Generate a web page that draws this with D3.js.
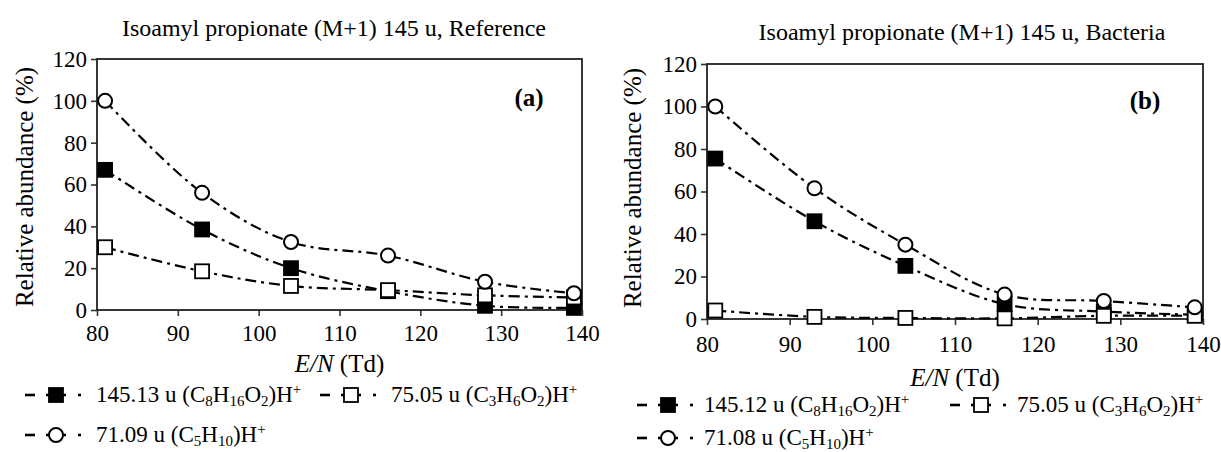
<!DOCTYPE html>
<html lang="en">
<head>
  <meta charset="UTF-8">
  <title>Isoamyl propionate</title>
  <script src="https://d3js.org/d3.v7.min.js"></script>
  <style>
    body {
      margin: 0;
      background: #fff;
      overflow: hidden;
    }
  </style>
</head>
<body>
  <div id="chart"></div>
  <script>
    // E/N values (Td)
    const enValues = [81, 93, 104, 116, 128, 139];

    // panel (a) reference
    const refParent = [67, 38.5, 20, 9, 2, 1];
    const refFrag75 = [30, 18.5, 11.5, 9.5, 7, 6];
    const refFrag71 = [100, 56, 32.5, 26, 13.5, 8];

    // panel (b) bacteria
    const bacParent = [75.5, 46, 25, 7, 3.5, 2];
    const bacFrag75 = [4, 1, 0.5, 0.3, 1.5, 1.5];
    const bacFrag71 = [100, 61.5, 35, 11.5, 8.5, 5.5];

    const xTicks = [80, 90, 100, 110, 120, 130, 140];
    const yTicks = [0, 20, 40, 60, 80, 100, 120];

    // legend label parts: [text, "sub" | "sup" | ""]
    const labelsA = [
      [["145.13 u  (C", ""], ["8", "sub"], ["H", ""], ["16", "sub"], ["O", ""], ["2", "sub"], [")H", ""], ["+", "sup"]],
      [["75.05 u (C", ""], ["3", "sub"], ["H", ""], ["6", "sub"], ["O", ""], ["2", "sub"], [")H", ""], ["+", "sup"]],
      [["71.09 u  (C", ""], ["5", "sub"], ["H", ""], ["10", "sub"], [")H", ""], ["+", "sup"]]
    ];
    const labelsB = [
      [["145.12 u  (C", ""], ["8", "sub"], ["H", ""], ["16", "sub"], ["O", ""], ["2", "sub"], [")H", ""], ["+", "sup"]],
      [["75.05 u (C", ""], ["3", "sub"], ["H", ""], ["6", "sub"], ["O", ""], ["2", "sub"], [")H", ""], ["+", "sup"]],
      [["71.08 u  (C", ""], ["5", "sub"], ["H", ""], ["10", "sub"], [")H", ""], ["+", "sup"]]
    ];

    const markers = ["filledSquare", "openSquare", "openCircle"];
    const dash = "11,5,3,5";
    const serif = "'Liberation Serif', 'Times New Roman', serif";

    const svg = d3.select("#chart").append("svg")
      .attr("width", 1221)
      .attr("height", 452)
      .attr("font-family", serif);

    function drawMarker(g, type, x, y) {
      if (type === "openCircle") {
        g.append("circle")
          .attr("cx", x).attr("cy", y).attr("r", 7)
          .attr("fill", "#fff").attr("stroke", "#000").attr("stroke-width", 2);
      } else {
        g.append("rect")
          .attr("x", x - 7).attr("y", y - 7)
          .attr("width", 14).attr("height", 14)
          .attr("fill", type === "filledSquare" ? "#000" : "#fff")
          .attr("stroke", "#000").attr("stroke-width", 1.8);
      }
    }

    function writeLabel(g, parts, x, y) {
      const t = g.append("text")
        .attr("x", x).attr("y", y)
        .attr("font-family", serif)
        .attr("font-size", 23);
      parts.forEach(([s, kind]) => {
        const ts = t.append("tspan").text(s);
        if (kind === "sub") ts.attr("font-size", 15).attr("baseline-shift", "-4");
        if (kind === "sup") ts.attr("font-size", 15).attr("baseline-shift", "8");
      });
    }

    function legendItem(g, type, parts, x0, y, textGap) {
      g.append("line")
        .attr("x1", x0).attr("x2", x0 + 10)
        .attr("y1", y).attr("y2", y)
        .attr("stroke", "#000").attr("stroke-width", 2.6);
      g.append("line")
        .attr("x1", x0 + 21).attr("x2", x0 + 41)
        .attr("y1", y).attr("y2", y)
        .attr("stroke", "#000").attr("stroke-width", 2.6);
      g.append("line")
        .attr("x1", x0 + 53).attr("x2", x0 + 56)
        .attr("y1", y).attr("y2", y)
        .attr("stroke", "#000").attr("stroke-width", 2.6);
      drawMarker(g, type, x0 + 31, y);
      writeLabel(g, parts, x0 + textGap, y + 7);
    }

    function drawPanel(p) {
      const x = d3.scaleLinear().domain([80, 140]).range([p.left, p.right]);
      const y = d3.scaleLinear().domain([0, 120]).range([p.bottom, p.top]);
      const g = svg.append("g");

      g.append("text")
        .attr("x", p.titleX).attr("y", p.titleY)
        .attr("text-anchor", "middle")
        .attr("font-family", serif)
        .attr("font-size", 24)
        .text(p.title);

      const xAxis = g.append("g")
        .attr("transform", `translate(0,${p.bottom})`)
        .call(d3.axisBottom(x).tickValues(xTicks).tickSize(6).tickPadding(p.xPad));
      const yAxis = g.append("g")
        .attr("transform", `translate(${p.left},0)`)
        .call(d3.axisLeft(y).tickValues(yTicks).tickSize(6).tickPadding(4));
      [xAxis, yAxis].forEach(a => {
        a.attr("font-family", serif).attr("font-size", 23);
        a.select(".domain").remove();
        a.selectAll("line").attr("stroke", "#333").attr("stroke-width", 1.6);
      });

      g.append("rect")
        .attr("x", p.left).attr("y", p.top)
        .attr("width", p.right - p.left).attr("height", p.bottom - p.top)
        .attr("fill", "none").attr("stroke", "#222").attr("stroke-width", 1.8);

      const ax = g.append("text")
        .attr("x", (p.left + p.right) / 2).attr("y", p.axisTitleY)
        .attr("text-anchor", "middle")
        .attr("font-family", serif)
        .attr("font-size", 25);
      ax.append("tspan").attr("font-style", "italic").text("E/N");
      ax.append("tspan").text(" (Td)");

      g.append("text")
        .attr("transform", `translate(${p.yTitleX},${p.yTitleY}) rotate(-90)`)
        .attr("text-anchor", "middle")
        .attr("font-family", serif)
        .attr("font-size", 25)
        .text("Relative abundance (%)");

      g.append("text")
        .attr("x", p.tagX).attr("y", p.tagY)
        .attr("text-anchor", "middle")
        .attr("font-family", serif)
        .attr("font-size", 25).attr("font-weight", "bold")
        .text(p.tag);

      const line = d3.line()
        .x((d, i) => x(enValues[i]))
        .y(d => y(d))
        .curve(d3.curveCatmullRom.alpha(0.5));

      p.series.forEach(vals => {
        g.append("path")
          .attr("d", line(vals))
          .attr("fill", "none")
          .attr("stroke", "#000")
          .attr("stroke-width", 2.2)
          .attr("stroke-dasharray", dash);
      });
      p.series.forEach((vals, k) => {
        vals.forEach((v, i) => drawMarker(g, markers[k], x(enValues[i]), y(v)));
      });

      const lg = g.append("g");
      legendItem(lg, markers[0], p.labels[0], p.leg1X, p.legRow1, p.textGap);
      legendItem(lg, markers[1], p.labels[1], p.leg2X, p.legRow1, p.textGap);
      legendItem(lg, markers[2], p.labels[2], p.leg1X, p.legRow2, p.textGap);
    }

    drawPanel({
      left: 97, right: 582, top: 59, bottom: 310,
      title: "Isoamyl propionate (M+1) 145 u, Reference", titleX: 334, titleY: 36,
      xPad: 9, axisTitleY: 372, yTitleX: 33, yTitleY: 187,
      tag: "(a)", tagX: 529, tagY: 106,
      series: [refParent, refFrag75, refFrag71],
      labels: labelsA,
      leg1X: 25, leg2X: 320, legRow1: 395, legRow2: 435, textGap: 71
    });

    drawPanel({
      left: 707, right: 1203, top: 64, bottom: 319,
      title: "Isoamyl propionate (M+1) 145 u, Bacteria", titleX: 962, titleY: 40,
      xPad: 11, axisTitleY: 386, yTitleX: 641, yTitleY: 188,
      tag: "(b)", tagX: 1145, tagY: 109,
      series: [bacParent, bacFrag75, bacFrag71],
      labels: labelsB,
      leg1X: 637, leg2X: 950, legRow1: 405, legRow2: 438, textGap: 67
    });
  </script>
</body>
</html>
